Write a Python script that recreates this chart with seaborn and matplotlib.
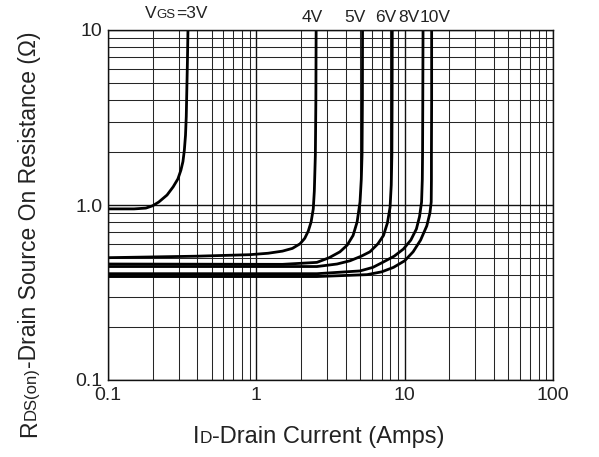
import matplotlib
matplotlib.use("Agg")
import matplotlib.pyplot as plt
from matplotlib.transforms import IdentityTransform
from matplotlib.ticker import FixedLocator, FixedFormatter, LogLocator, NullFormatter
import seaborn as sns
import pandas as pd

# curves: drain current (A) vs on-resistance (ohm)
i_3v = [0.1, 0.15, 0.18, 0.2, 0.22, 0.25, 0.275, 0.296, 0.31, 0.32, 0.327, 0.333, 0.337, 0.34, 0.343, 0.346]
r_3v = [0.95, 0.95, 0.96, 0.99, 1.04, 1.14, 1.27, 1.41, 1.58, 1.77, 2.05, 2.5, 3.2, 4.6, 6.5, 10]
i_4v = [0.1, 0.4, 0.9, 1.2, 1.5, 1.75, 1.97, 2.12, 2.24, 2.34, 2.42, 2.46, 2.5, 2.52, 2.53]
r_4v = [0.50, 0.51, 0.52, 0.53, 0.545, 0.565, 0.6, 0.645, 0.71, 0.8, 0.95, 1.2, 1.94, 4, 10]
i_5v = [0.1, 1.5, 2.56, 3.1, 3.66, 4.1, 4.49, 4.78, 5.0, 5.1, 5.16, 5.19, 5.2]
r_5v = [0.46, 0.458, 0.47, 0.5, 0.54, 0.59, 0.67, 0.8, 1.04, 1.4, 1.94, 4, 10]
i_6v = [0.1, 2.56, 3.5, 4.28, 5.1, 5.83, 6.6, 7.2, 7.65, 7.97, 8.12, 8.2, 8.23, 8.25]
r_6v = [0.445, 0.445, 0.46, 0.48, 0.51, 0.54, 0.6, 0.67, 0.79, 0.97, 1.3, 1.94, 4, 10]
i_8v = [0.1, 2.56, 5.0, 6.1, 7.1, 8.5, 9.8, 11.0, 12.0, 12.6, 13.0, 13.15, 13.2, 13.25, 13.3]
r_8v = [0.405, 0.405, 0.42, 0.44, 0.47, 0.51, 0.56, 0.63, 0.73, 0.86, 1.04, 1.4, 1.94, 4, 10]
i_10v = [0.1, 2.56, 5.58, 7.0, 8.4, 10.0, 11.4, 12.8, 14.1, 14.8, 15.1, 15.15, 15.15, 15.2, 15.2]
r_10v = [0.39, 0.39, 0.40, 0.415, 0.44, 0.48, 0.54, 0.63, 0.76, 0.9, 1.04, 1.4, 1.94, 4, 10]

gate_labels = ["3V", "4V", "5V", "6V", "8V", "10V"]
label_x = [0.287, 2.37, 4.63, 7.45, 10.6, 16.0]

x_ticks = [0.1, 1, 10, 100]
x_ticklabels = ["0.1", "1", "10", "100"]
y_ticks = [0.1, 1, 10]
y_ticklabels = ["0.1", "1.0", "10"]

curves = [(i_3v, r_3v), (i_4v, r_4v), (i_5v, r_5v),
          (i_6v, r_6v), (i_8v, r_8v), (i_10v, r_10v)]
rows = []
for lab, (xs, ys) in zip(gate_labels, curves):
    for k, (a, b) in enumerate(zip(xs, ys)):
        rows.append({"vgs": lab, "order": k, "id": a, "rds": b})
df = pd.DataFrame(rows)

sns.set_theme(style="white")
plt.rcParams["font.family"] = ["Liberation Sans", "DejaVu Sans"]

fig = plt.figure(figsize=(5.99, 4.57), dpi=100)
ax = fig.add_axes([108 / 599, 1 - 380 / 457, 445 / 599, 350 / 457])

ax.set_xscale("log")
ax.set_yscale("log")
ax.set_xlim(0.1, 100)
ax.set_ylim(0.1, 10)

ax.grid(which="major", color="#111111", lw=1.0)
ax.grid(which="minor", color="#262626", lw=0.75)
ax.set_axisbelow(True)
ax.xaxis.set_minor_locator(LogLocator(base=10, subs=range(2, 10)))
ax.yaxis.set_minor_locator(LogLocator(base=10, subs=range(2, 10)))
ax.xaxis.set_minor_formatter(NullFormatter())
ax.yaxis.set_minor_formatter(NullFormatter())

sns.lineplot(data=df, x="id", y="rds", hue="vgs", units="vgs", estimator=None,
             sort=False, palette=["black"] * 6, lw=2.0, legend=False, ax=ax)

ax.xaxis.set_major_locator(FixedLocator(x_ticks))
ax.xaxis.set_major_formatter(FixedFormatter(x_ticklabels))
ax.yaxis.set_major_locator(FixedLocator(y_ticks))
ax.yaxis.set_major_formatter(FixedFormatter(y_ticklabels))
ax.tick_params(which="both", length=0, labelsize=14, colors="#222222")
ax.tick_params(axis="x", pad=5)
ax.tick_params(axis="y", pad=4)
ax.set_xlabel("")
ax.set_ylabel("")
for sp in ax.spines.values():
    sp.set_color("#111111")
    sp.set_linewidth(1.0)

# gate voltage labels above the plot
for lab, xv in zip(gate_labels[1:], label_x[1:]):
    ax.text(xv, 1.015, lab, transform=ax.get_xaxis_transform(), ha="center",
            va="bottom", fontsize=12.5, color="#222222")

renderer = fig.canvas.get_renderer()


def rich(x, y, parts, rot=0):
    # place text pieces of different sizes on one baseline (pixel coords)
    for s, fs in parts:
        t = fig.text(x, y, s, fontsize=fs, rotation=rot, rotation_mode="anchor",
                     ha="left", va="baseline", color="#222222",
                     transform=IdentityTransform())
        bb = t.get_window_extent(renderer)
        if rot == 0:
            x += bb.width
        else:
            y += bb.height


rich(145, 457 - 18, [("V", 12.5), ("GS", 9.5), ("=3V", 12.5)])
rich(193, 457 - 443, [("I", 17), ("D", 12.5), ("-Drain Current (Amps)", 17)])
rich(36, 457 - 437, [("R", 16.5), ("DS(on)", 12), ("-Drain Source On Resistance (\u03a9)", 16.5)], rot=90)

fig.savefig("out.png", dpi=100)
